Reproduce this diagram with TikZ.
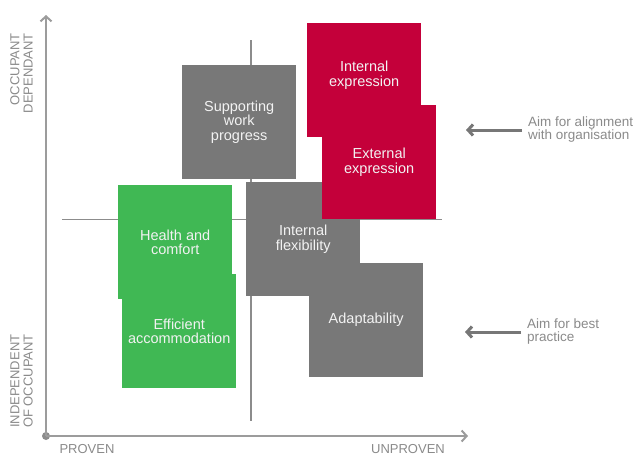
\documentclass[tikz,border=0pt]{standalone}
\usepackage{fontspec}
\setmainfont{Liberation Sans}
\usetikzlibrary{arrows.meta}
\definecolor{boxgray}{HTML}{787878}
\definecolor{boxred}{HTML}{C4003A}
\definecolor{boxgreen}{HTML}{40B854}
\definecolor{axisgray}{HTML}{9C9C9C}
\definecolor{labelgray}{HTML}{8A8A8A}
\definecolor{arrowgray}{HTML}{777777}
\definecolor{boxtext}{HTML}{F2F2F2}
\begin{document}
\begin{tikzpicture}[x=1pt,y=-1pt,
  box/.style={draw=none, inner sep=0pt, minimum width=114pt, minimum height=114pt,
    anchor=north west, align=center, text=boxtext, font=\fontsize{14.5}{14.2}\selectfont},
  graybox/.style={box, fill=boxgray},
  redbox/.style={box, fill=boxred},
  greenbox/.style={box, fill=boxgreen},
  boxlabel/.style={inner sep=0pt, align=center, text=boxtext, font=\fontsize{14.5}{14.2}\selectfont},
  axis/.style={draw=axisgray, line width=2pt, -{Straight Barb[length=5pt,width=11pt]}},
  crossline/.style={draw=axisgray!90!black, line width=1.2pt},
  axislabel/.style={inner sep=0pt, text=labelgray, font=\fontsize{13}{13.3}\selectfont},
  aimlabel/.style={inner sep=0pt, anchor=west, align=left, text=labelgray, font=\fontsize{13.5}{13}\selectfont},
  aimarrow/.style={draw=arrowgray, line width=3pt, -{Straight Barb[length=5pt,width=11pt]}, shorten <=6pt},
  origindot/.style={circle, fill=axisgray!90!black, inner sep=0pt, minimum size=8pt}
]
\useasboundingbox (0,0) rectangle (642,456);

% quadrant lines
\coordinate (hl) at (62,219.5);
\coordinate (hr) at (442,219.5);
\coordinate (vt) at (251,40);
\coordinate (vb) at (251,420.5);
\draw[crossline] (hl) -- (hr);
\draw[crossline] (vt) -- (vb);

% axes
\node[origindot] (o) at (46,436) {};
\coordinate (ytip) at (46,15);
\coordinate (xtip) at (468,436);
\draw[axis] (o.center) -- (ytip);
\draw[axis] (o.center) -- (xtip);

% boxes
\node[greenbox] (hc) at (118,185) {Health and\\comfort};
\node[greenbox] (ea) at (122,274) {Efficient\\accommodation};
\node[graybox] (sw) at (182,65) {Supporting\\work\\progress};
\node[graybox] (if) at (246,182) {Internal\\flexibility};
\node[graybox] (ad) at (309,263) {Adaptability};
\node[redbox] (ie) at (307,23) {};
\node[boxlabel] (iet) at ([yshift=5pt]ie.center) {Internal\\expression};
\node[redbox] (ee) at (322,105) {External\\expression};

% axis labels
\node[axislabel, rotate=90, anchor=east, align=right] (occ) at (21.5,33) {OCCUPANT\\DEPENDANT};
\node[axislabel, rotate=90, anchor=west, align=left] (ind) at (21.5,428) {INDEPENDENT\\OF OCCUPANT};
\node[axislabel, anchor=base] (pr) at (87,453) {PROVEN};
\node[axislabel, anchor=base] (up) at (408,453) {UNPROVEN};

% right notes
\node[aimlabel] (t1) at (528,130) {Aim for alignment\\with organisation};
\coordinate (a1) at (466,130);
\draw[aimarrow] (t1.west) -- (a1);
\node[aimlabel] (t2) at (527,332) {Aim for best\\practice};
\coordinate (a2) at (465,332);
\draw[aimarrow] (t2.west) -- (a2);
\end{tikzpicture}
\end{document}
